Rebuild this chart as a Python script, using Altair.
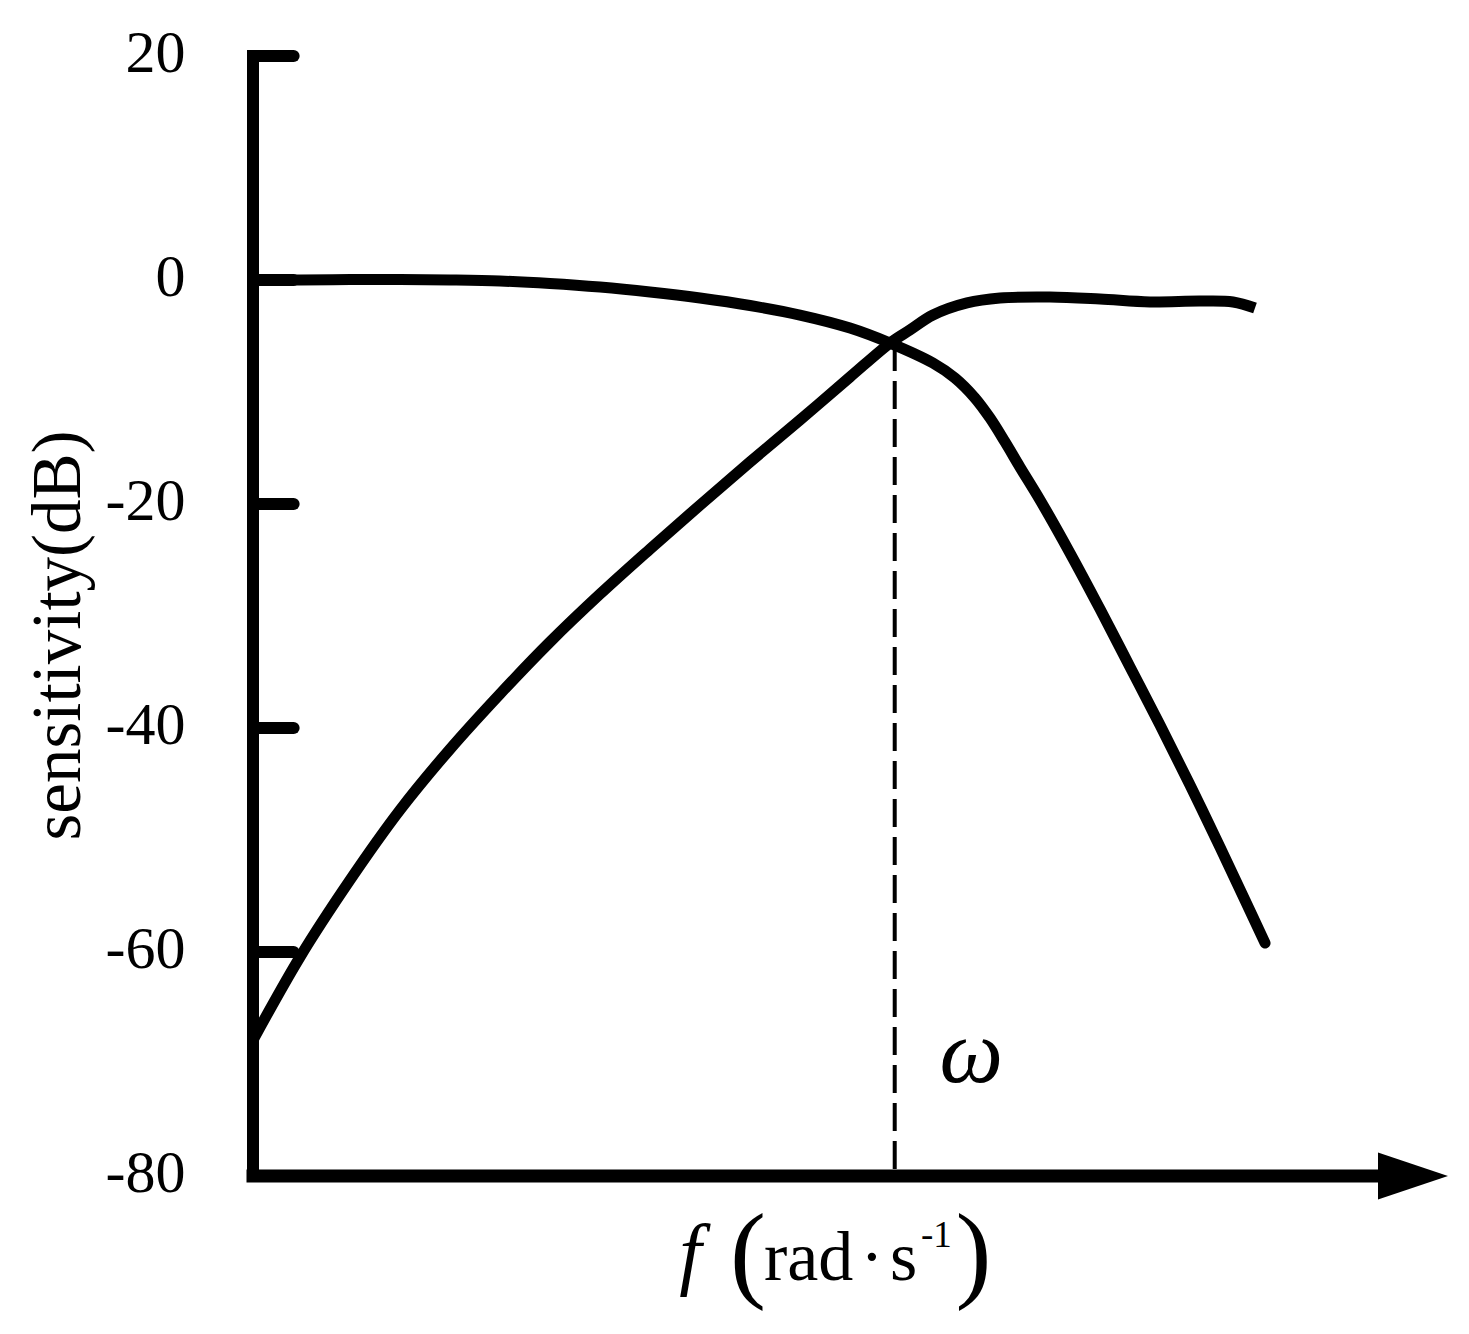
import altair as alt
import pandas as pd

# ---- data ----
# curve 1 (flat, then falls off at high frequency)
f1 = [0, 0.393, 0.812, 1.230, 1.649, 2.067, 2.485, 2.904, 3.322, 3.741, 4.159, 4.577,
      4.996, 5.331, 5.690, 5.874, 6.042, 6.167, 6.293, 6.418, 6.586, 6.837, 7.088,
      7.339, 7.590, 7.841, 8.092, 8.301, 8.469]
db1 = [0.0, 0.0, 0.04, 0.04, 0.0, -0.09, -0.31, -0.63, -1.07, -1.61, -2.28, -3.13,
       -4.29, -5.63, -7.41, -8.75, -10.54, -12.32, -14.46, -16.70, -19.64, -24.38, -29.38,
       -34.55, -39.73, -45.09, -50.63, -55.36, -59.20]
# curve 2 (rises, then flattens)
f2 = [0, 0.393, 0.812, 1.230, 1.649, 2.067, 2.485, 2.904, 3.322, 3.741, 4.159, 4.577,
      4.996, 5.331, 5.498, 5.690, 5.975, 6.251, 6.669, 7.088, 7.506, 7.925, 8.201, 8.385]
db2 = [-67.86, -60.45, -53.57, -47.32, -41.88, -36.96, -32.32, -28.04, -24.02, -20.09,
       -16.25, -12.5, -8.66, -5.63, -4.46, -3.13, -2.05, -1.61, -1.52, -1.70, -1.96,
       -1.88, -1.96, -2.5]
y_ticks = [20, 0, -20, -40, -60, -80]
inner_ticks = [20, 0, -20, -40, -60]
cross_f = 5.37
cross_db = -5.63

FONT = "Liberation Serif"
xs = alt.Scale(domain=[0, 10], nice=False, zero=False)
ys = alt.Scale(domain=[-80, 20], nice=False, zero=False)

c1 = pd.DataFrame({"f": f1, "db": db1})
c2 = pd.DataFrame({"f": f2, "db": db2})
tk = pd.DataFrame({"v": inner_ticks})

y_axis = alt.Axis(
    values=y_ticks, domain=False, ticks=False, tickSize=0, grid=False,
    labelFont=FONT, labelFontSize=60, labelColor="black", labelPadding=68, labelOffset=-3,
    labelExpr="datum.value < 0 ? '-' + abs(datum.value) : '' + datum.value",
    title="sensitivity(dB)", titleFont=FONT, titleFontSize=69, titleFontWeight="normal",
    titleColor="black", titleAngle=270, titleX=-174, titleY=579,
    titleAlign="center", titleBaseline="alphabetic",
)


def X(**kw):
    return alt.X(scale=xs, axis=None, **kw)


def Y(**kw):
    return alt.Y(scale=ys, axis=y_axis, **kw)


curve1 = alt.Chart(c1).mark_line(color="black", strokeWidth=11, interpolate="catmull-rom",
                                 strokeCap="round").encode(
    x=X(field="f", type="quantitative"),
    y=Y(field="db", type="quantitative"),
)
curve2 = alt.Chart(c2).mark_line(color="black", strokeWidth=11, interpolate="catmull-rom").encode(
    x=X(field="f", type="quantitative"),
    y=Y(field="db", type="quantitative"),
)

yline = alt.Chart().mark_rule(color="black", strokeWidth=12, strokeCap="square").encode(
    x=X(datum=0),
    y=Y(datum=-80),
    y2=alt.Y2(datum=20),
)
ticks = alt.Chart(tk).mark_rule(color="black", strokeWidth=12, strokeCap="round").encode(
    x=X(datum=0),
    x2=alt.X2(datum=0.34),
    y=Y(field="v", type="quantitative"),
)
xline = alt.Chart().mark_rule(color="black", strokeWidth=13, strokeCap="square").encode(
    x=X(datum=0),
    x2=alt.X2(datum=9.5),
    y=Y(datum=-80),
)
arrow = alt.Chart().mark_point(shape="M-1,-0.671L1,0L-1,0.671Z", size=4900, filled=True,
                               color="black", opacity=1, strokeWidth=0).encode(
    x=X(datum=9.707),
    y=Y(datum=-80),
)
dash = alt.Chart().mark_rule(color="black", strokeWidth=4, strokeDash=[28, 10]).encode(
    x=X(datum=cross_f),
    y=Y(datum=cross_db),
    y2=alt.Y2(datum=-80),
)


def txt(s, fx, fy, size, style="normal", align="left"):
    return alt.Chart().mark_text(text=s, font=FONT, fontSize=size, fontStyle=style,
                                 align=align, baseline="alphabetic", color="black").encode(
        x=X(datum=fx),
        y=Y(datum=fy),
    )


omega = txt("\u03c9", 6.01, -71.6, 90, "italic", "center")
lab_f = txt("f", 3.66, -89.29, 80, "italic", "center")
lab_lp = txt("(", 4.142, -90.0, 108, "normal", "center")
lab_rad = txt("rad", 4.276, -89.29, 70)
lab_dot = txt("\u00b7", 5.18, -89.29, 70, "normal", "center")
lab_s = txt("s", 5.33, -89.29, 70)
lab_sup = txt("-1", 5.59, -86.34, 37)
lab_rp = txt(")", 6.03, -90.0, 108, "normal", "center")

chart = alt.layer(
    curve1, curve2, yline, ticks, xline, arrow, dash,
    omega, lab_f, lab_lp, lab_rad, lab_dot, lab_s, lab_sup, lab_rp,
).properties(
    width=1195, height=1120,
    autosize=alt.AutoSizeParams(type="none"),
    padding={"left": 245, "top": 48, "right": 13, "bottom": 150},
    background="white",
).configure_view(stroke=None)

chart.save("out.html", embed_options={"renderer": "svg", "actions": False})
